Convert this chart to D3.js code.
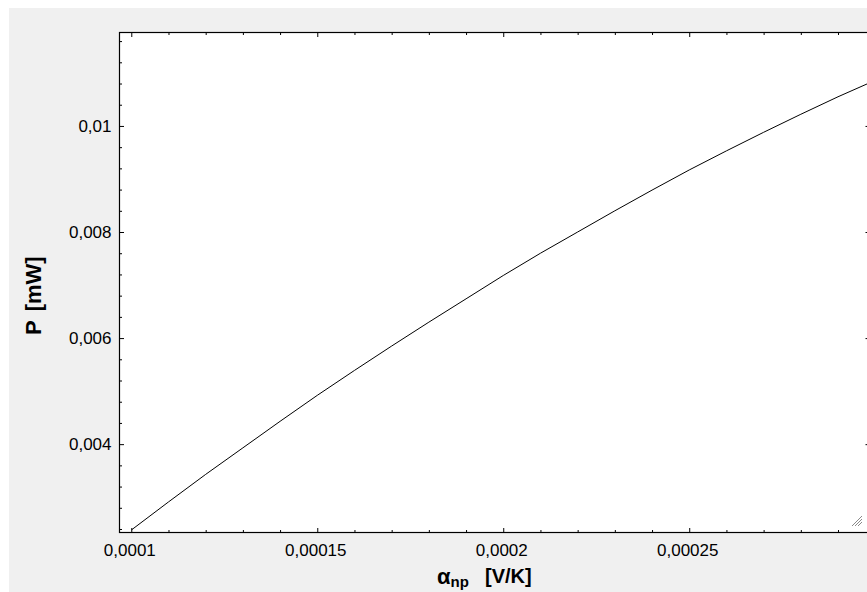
<!DOCTYPE html>
<html>
<head>
<meta charset="utf-8">
<script src="https://cdn.jsdelivr.net/npm/d3@7"></script>
<style>
  html, body { margin: 0; padding: 0; background: #ffffff; }
  svg { display: block; }
  .tick text { font-family: Arial, 'Liberation Sans', sans-serif; font-size: 17px; fill: #000; }
  .tick line { stroke: #000; stroke-width: 1; }
  .title { font-family: Arial, 'Liberation Sans', sans-serif; font-weight: bold; fill: #000; }
</style>
</head>
<body>
<svg id="chart"></svg>
<script>
// Data (alpha_np in V/K, P in mW)
const alphaNp = [0.0001, 0.00011, 0.00012, 0.00013, 0.00014, 0.00015, 0.00016, 0.00017, 0.00018, 0.00019,
                 0.0002, 0.00021, 0.00022, 0.00023, 0.00024, 0.00025, 0.00026, 0.00027, 0.00028, 0.00029, 0.0003];
const powerMw = [0.00238, 0.00291, 0.00343, 0.00393, 0.00443, 0.00492, 0.00539, 0.00585, 0.00630, 0.00674,
                 0.00718, 0.00760, 0.00800, 0.00840, 0.00879, 0.00917, 0.00953, 0.00988, 0.01022, 0.01055, 0.01086];

// Axis ranges and ticks
const xDomain = [0.00009683, 0.0002986];
const yDomain = [0.002334, 0.011762];
const xMajorTicks = [0.0001, 0.00015, 0.0002, 0.00025];
const xMajorLabels = ['0,0001', '0,00015', '0,0002', '0,00025'];
const yMajorTicks = [0.004, 0.006, 0.008, 0.01];
const yMajorLabels = ['0,004', '0,006', '0,008', '0,01'];
const xMinorStep = 0.00001;
const yMinorStep = 0.0004;

// Dimensions
const width = 867;
const height = 592;
const plot = { left: 119.5, top: 32.5, right: 870, bottom: 532.5 };

const svg = d3.select('#chart')
    .attr('width', width)
    .attr('height', height);

// panel backgrounds
svg.append('rect')
    .attr('x', 9).attr('y', 8)
    .attr('width', width - 9).attr('height', height - 8)
    .attr('fill', '#f0f0f0');

svg.append('rect')
    .attr('x', plot.left).attr('y', plot.top)
    .attr('width', plot.right - plot.left).attr('height', plot.bottom - plot.top)
    .attr('fill', '#ffffff');

// Scales
const x = d3.scaleLinear().domain(xDomain).range([plot.left, plot.right]);
const y = d3.scaleLinear().domain(yDomain).range([plot.bottom, plot.top]);

const xMinor = d3.range(0.0001, xDomain[1], xMinorStep)
    .filter(v => !xMajorTicks.some(m => Math.abs(m - v) < 1e-9));
const yMinor = d3.range(0.0024, yDomain[1], yMinorStep)
    .filter(v => !yMajorTicks.some(m => Math.abs(m - v) < 1e-9));

function fmt(ticks, labels) {
    return d => {
        const i = ticks.findIndex(t => Math.abs(t - d) < 1e-9);
        return i >= 0 ? labels[i] : '';
    };
}

function addAxis(axis, transform) {
    const g = svg.append('g').attr('transform', transform).call(axis);
    g.select('.domain').remove();
    return g;
}

// Bottom
addAxis(d3.axisBottom(x).tickValues(xMinor).tickSize(-2.5).tickFormat(''), `translate(0,${plot.bottom})`);
const gx = addAxis(d3.axisBottom(x).tickValues(xMajorTicks).tickSize(-4.5).tickPadding(11)
    .tickFormat(fmt(xMajorTicks, xMajorLabels)), `translate(0,${plot.bottom})`);
gx.selectAll('.tick text').attr('dx', -2);

// Top
addAxis(d3.axisTop(x).tickValues(xMinor).tickSize(-2.5).tickFormat(''), `translate(0,${plot.top})`);
addAxis(d3.axisTop(x).tickValues(xMajorTicks).tickSize(-4.5).tickFormat(''), `translate(0,${plot.top})`);

// Left
addAxis(d3.axisLeft(y).tickValues(yMinor).tickSize(-2.5).tickFormat(''), `translate(${plot.left},0)`);
addAxis(d3.axisLeft(y).tickValues(yMajorTicks).tickSize(-4.5).tickPadding(8)
    .tickFormat(fmt(yMajorTicks, yMajorLabels)), `translate(${plot.left},0)`);

// Right
addAxis(d3.axisRight(y).tickValues(yMinor).tickSize(-2.5).tickFormat(''), `translate(${plot.right},0)`);
addAxis(d3.axisRight(y).tickValues(yMajorTicks).tickSize(-4.5).tickFormat(''), `translate(${plot.right},0)`);

// Frame
svg.append('rect')
    .attr('x', plot.left).attr('y', plot.top)
    .attr('width', plot.right - plot.left).attr('height', plot.bottom - plot.top)
    .attr('fill', 'none')
    .attr('stroke', '#000')
    .attr('stroke-width', 1.2);

// Curve
svg.append('clipPath').attr('id', 'clip')
    .append('rect')
    .attr('x', plot.left).attr('y', plot.top)
    .attr('width', plot.right - plot.left).attr('height', plot.bottom - plot.top);

const line = d3.line()
    .x((d, i) => x(alphaNp[i]))
    .y(d => y(d));

svg.append('path')
    .datum(powerMw)
    .attr('clip-path', 'url(#clip)')
    .attr('d', line)
    .attr('fill', 'none')
    .attr('stroke', '#000')
    .attr('stroke-width', 1);

// resize grip
const grip = svg.append('g').attr('stroke', '#8a8a8a').attr('stroke-width', 1);
[[852, 526, 862, 516], [855, 526, 862, 519], [858, 526, 862, 522]].forEach(s => {
    grip.append('line').attr('x1', s[0]).attr('y1', s[1]).attr('x2', s[2]).attr('y2', s[3]);
});

// Axis titles
const xTitle = svg.append('text').attr('class', 'title').attr('x', 437).attr('y', 584);
xTitle.append('tspan').attr('font-size', 22).text('α');
xTitle.append('tspan').attr('font-size', 15).attr('dy', 3).text('np');
xTitle.append('tspan').attr('font-size', 20).attr('x', 485).attr('y', 583).text('[V/K]');

const yTitle = svg.append('text').attr('class', 'title')
    .attr('font-size', 22)
    .attr('transform', 'translate(41,335) rotate(-90)');
yTitle.append('tspan').text('P');
yTitle.append('tspan').attr('dx', 9).text('[mW]');
</script>
</body>
</html>
